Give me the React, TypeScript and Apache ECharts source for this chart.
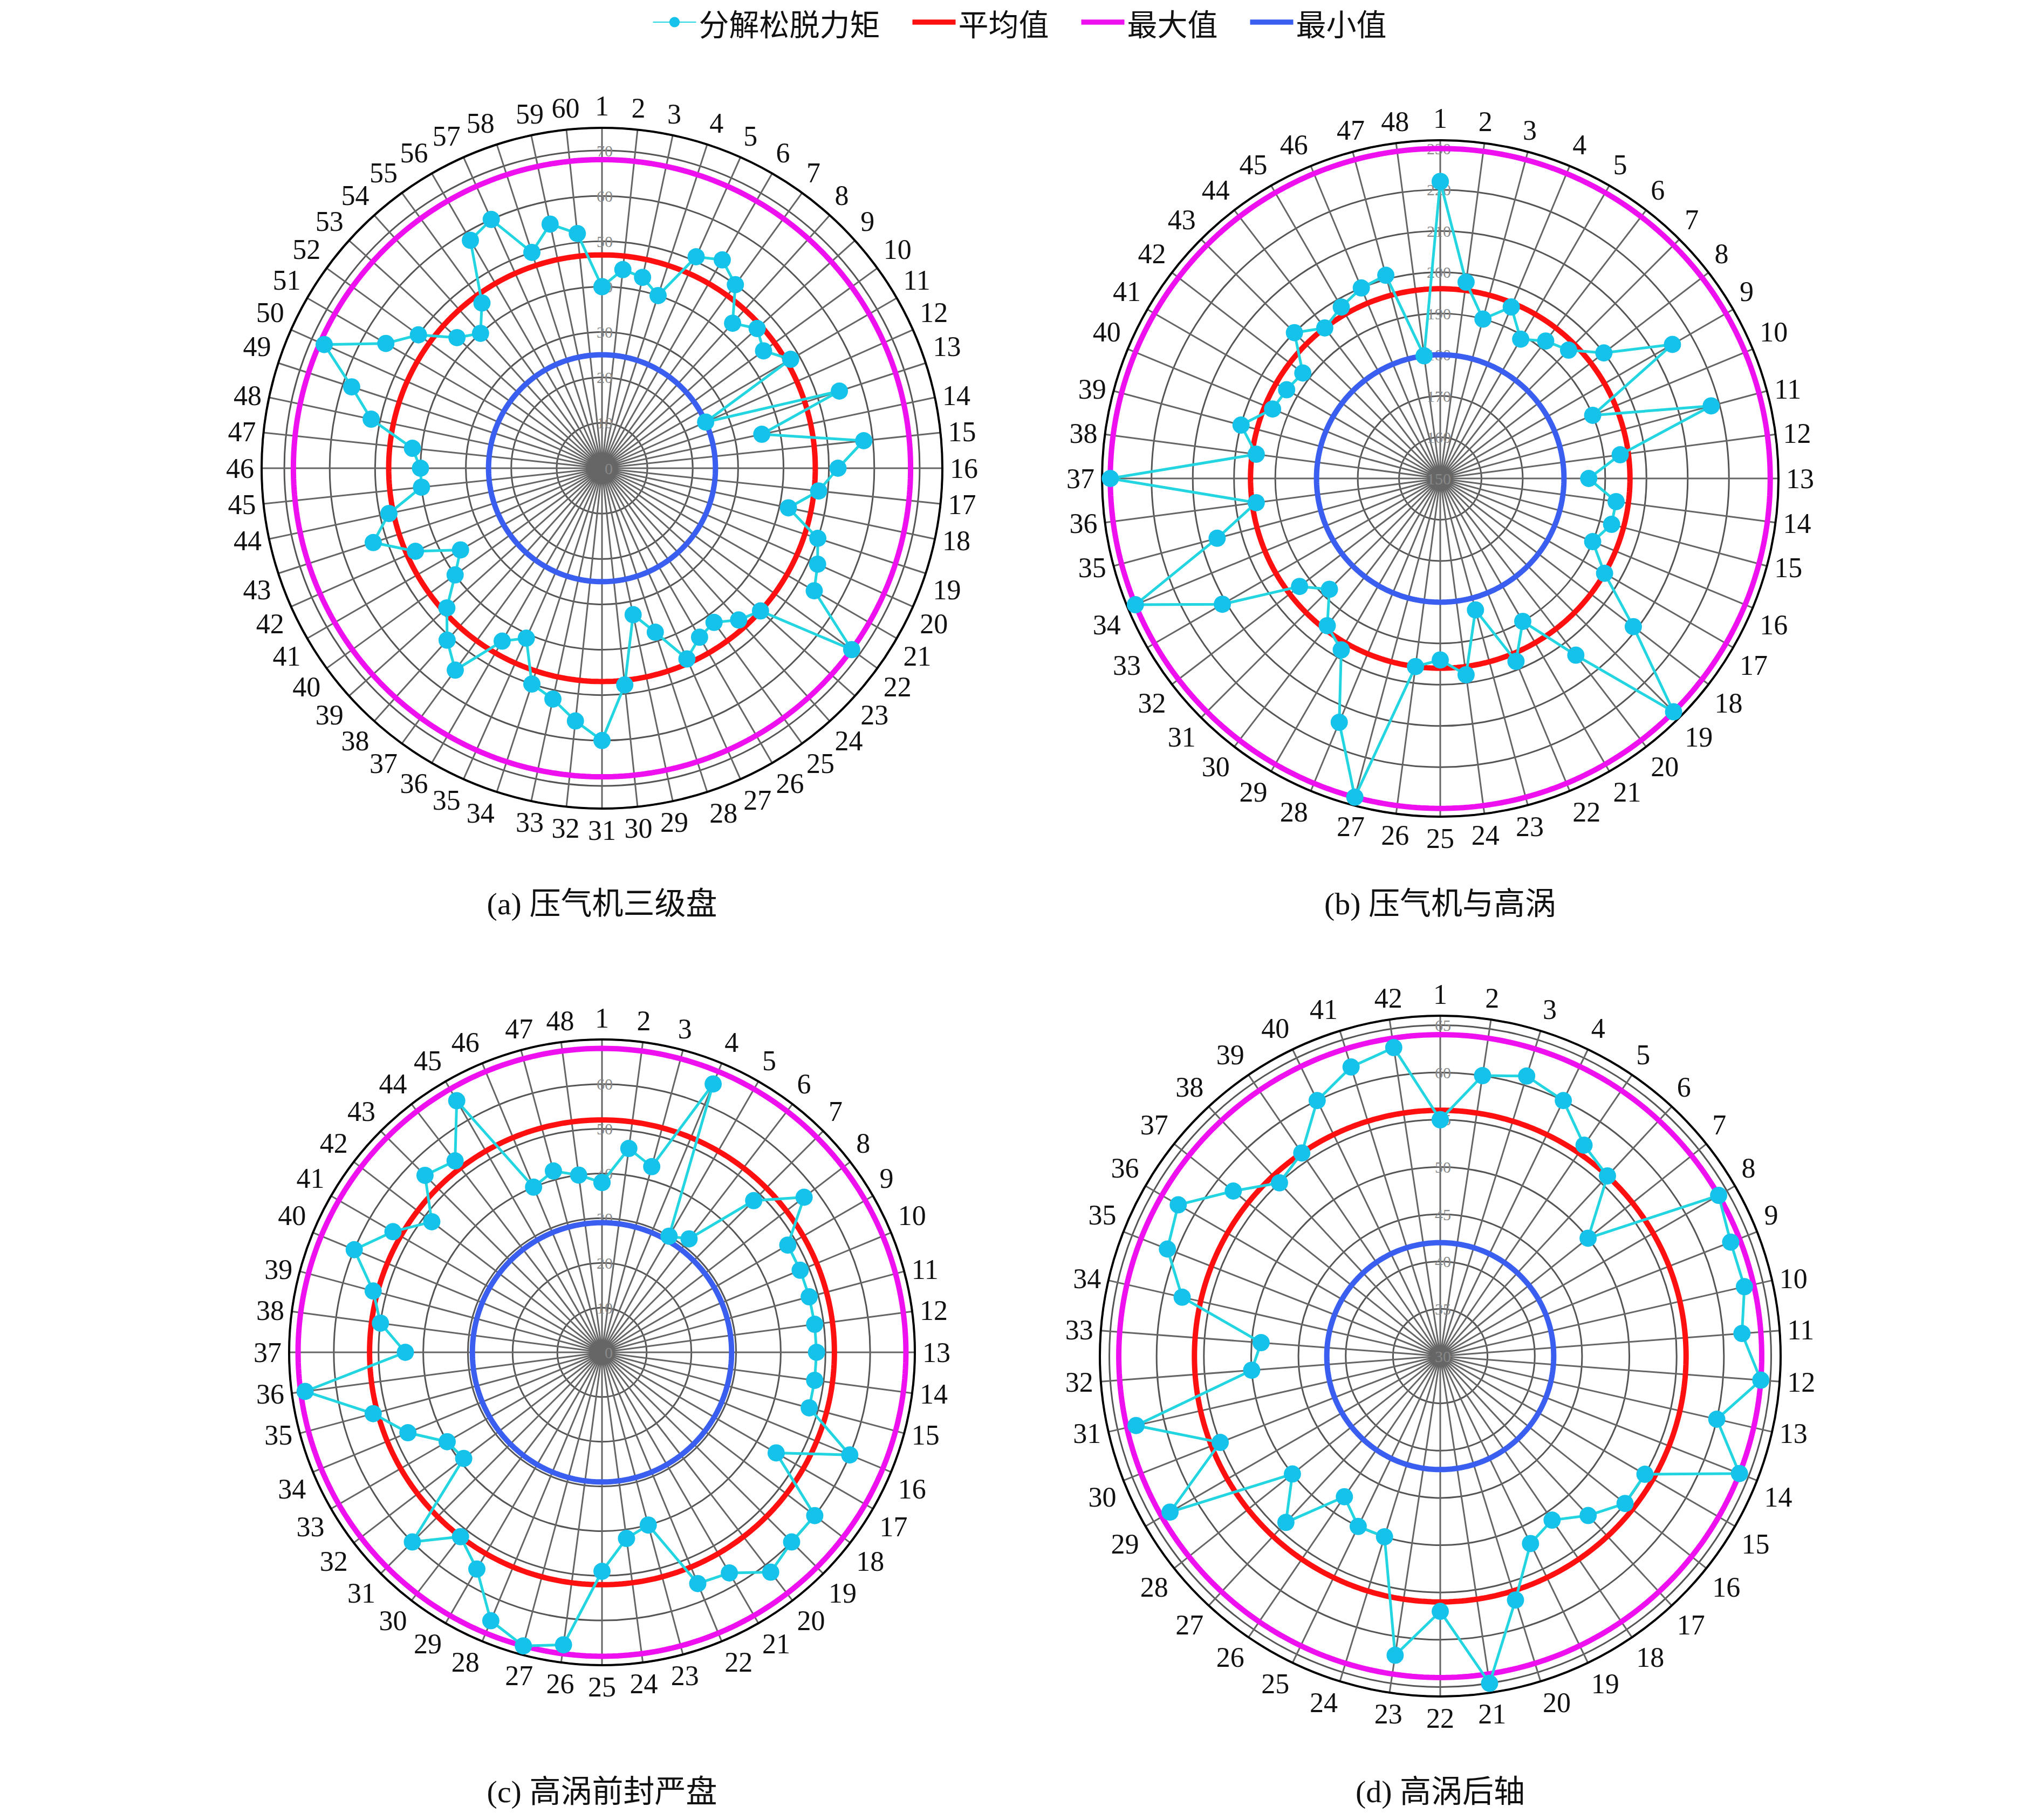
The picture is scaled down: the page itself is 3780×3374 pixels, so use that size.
import { useEffect, useRef } from 'react'
import * as echarts from 'echarts'

const seriesNames = ['分解松脱力矩', '平均值', '最大值', '最小值']
const captions = ['(a) 压气机三级盘', '(b) 压气机与高涡', '(c) 高涡前封严盘', '(d) 高涡后轴']

const torqueA = [40, 44, 43, 40, 51, 53, 50, 43, 46, 44, 48, 25, 55, 36, 58, 52, 48, 42, 50, 52, 54, 68, 47, 45, 42, 43, 46, 38, 33, 48,
  60, 56, 52, 50, 41, 44, 55, 51, 46, 40, 36, 45, 53, 48, 40, 40, 42, 52, 58, 67, 55, 50, 43, 40, 45, 58, 60, 50, 55, 52]
const torqueB = [222, 198, 190, 195, 189, 192, 194, 200, 215, 190, 218, 194, 186, 193, 193, 190, 196, 209, 230, 204, 190, 198, 183, 198,
  194, 196, 230, 214, 198, 195, 188, 193, 211, 230, 206, 195, 230, 195, 200, 194, 193, 192, 200, 196, 198, 200, 201, 180]
const torqueC = [38, 46, 43, 65, 30, 32, 48, 57, 48, 48, 48, 48, 48, 48, 48, 60, 45, 60, 60, 62, 57, 56, 40, 42, 49, 66, 68, 65, 56, 52,
  60, 39, 40, 47, 53, 67, 44, 50, 53, 60, 54, 48, 56, 54, 65, 40, 42, 40]
const torqueD = [55, 60, 61, 60, 57, 56, 50, 64, 63, 63, 62, 64, 60, 64, 55, 55, 53, 51, 52, 57, 65, 57, 62, 50, 50, 48, 54, 50, 63, 55,
  63, 50, 49, 58, 61, 62, 58, 55, 56, 60, 62, 63]
const torques = [torqueA, torqueB, torqueC, torqueD]

const meanValues = [47, 196, 52, 56]
const maxValues = [68, 230, 68, 64]
const minValues = [25, 180, 29, 42]
const axisMin = [0, 150, 0, 30]
const axisMax = [75, 232, 70, 66]
const axisStep = [10, 10, 10, 5]

const centers = [[1116, 868], [2670, 887], [1116, 2507], [2670, 2514]]
const radii = [631, 627, 580, 631]
const captionY = [1675, 1675, 3321, 3321]

const serif = '"Liberation Serif", "Noto Sans CJK SC", serif'
const lineIcon = 'path://M0,0L12,0L12,1.4L0,1.4Z'

function ring(value: number, n: number) {
  const pts: number[][] = []
  for (let k = 0; k <= 360; k++) pts.push([value, (k / 360) * n])
  return pts
}

export default function App() {
  const ref = useRef<HTMLDivElement | null>(null)

  useEffect(() => {
    document.body.style.margin = '0'
    if (!ref.current) return
    const chart = echarts.init(ref.current, null, { renderer: 'svg' })
    const polar: any[] = []
    const angleAxis: any[] = []
    const radiusAxis: any[] = []
    const series: any[] = []
    const ringColors = ['#ff1010', '#ee10ee', '#3a5ff0']
    const ringValues = [meanValues, maxValues, minValues]
    torques.forEach((vals, i) => {
      const n = vals.length
      polar.push({ center: centers[i], radius: radii[i] })
      angleAxis.push({
        polarIndex: i, type: 'value', min: 0, max: n, interval: 1, startAngle: 90, clockwise: true,
        axisLine: { lineStyle: { color: '#000', width: 4 } },
        axisTick: { show: false },
        axisLabel: { fontFamily: serif, fontSize: 52, color: '#111', margin: 14, formatter: (v: number) => (v >= n ? '' : String(v + 1)) },
        splitLine: { lineStyle: { color: '#666', width: 3 } },
      })
      radiusAxis.push({
        polarIndex: i, type: 'value', min: axisMin[i], max: axisMax[i], interval: axisStep[i],
        axisLine: { show: false }, axisTick: { show: false },
        axisLabel: { fontFamily: serif, fontSize: 30, color: '#888', margin: -20, formatter: (v: number) => (v >= axisMax[i] ? '' : String(v)) },
        splitLine: { lineStyle: { color: '#555', width: 3 } },
      })
      const pts = vals.map((v, k) => [v, k])
      pts.push([vals[0], n])
      series.push({
        name: seriesNames[0], type: 'line', coordinateSystem: 'polar', polarIndex: i, data: pts, symbol: 'circle', symbolSize: 32,
        itemStyle: { color: '#15c3ea' }, lineStyle: { color: '#22d5e0', width: 5 }, z: 5,
      })
      ringValues.forEach((rv, j) => {
        series.push({
          name: seriesNames[j + 1], type: 'line', coordinateSystem: 'polar', polarIndex: i, data: ring(rv[i], n), symbol: 'none',
          itemStyle: { color: ringColors[j] }, lineStyle: { color: ringColors[j], width: 10 }, z: 4,
        })
      })
    })
    chart.setOption({
      animation: false,
      backgroundColor: '#fff',
      legend: {
        top: 8, left: 'center', itemWidth: 80, itemHeight: 24, itemGap: 60,
        data: seriesNames.map((name, k) => (k === 0 ? { name } : { name, icon: lineIcon })),
        textStyle: { fontFamily: '"Noto Sans CJK SC", sans-serif', fontSize: 56, color: '#111' },
      },
      polar, angleAxis, radiusAxis, series,
      graphic: captions.map((t, i) => ({
        type: 'text', x: centers[i][0], y: captionY[i],
        style: { text: t, fontFamily: serif, fontSize: 58, fill: '#111', textAlign: 'center', textVerticalAlign: 'middle' },
      })),
    })
    return () => chart.dispose()
  }, [])

  return <div ref={ref} style={{ width: 3780, height: 3374 }} />
}
